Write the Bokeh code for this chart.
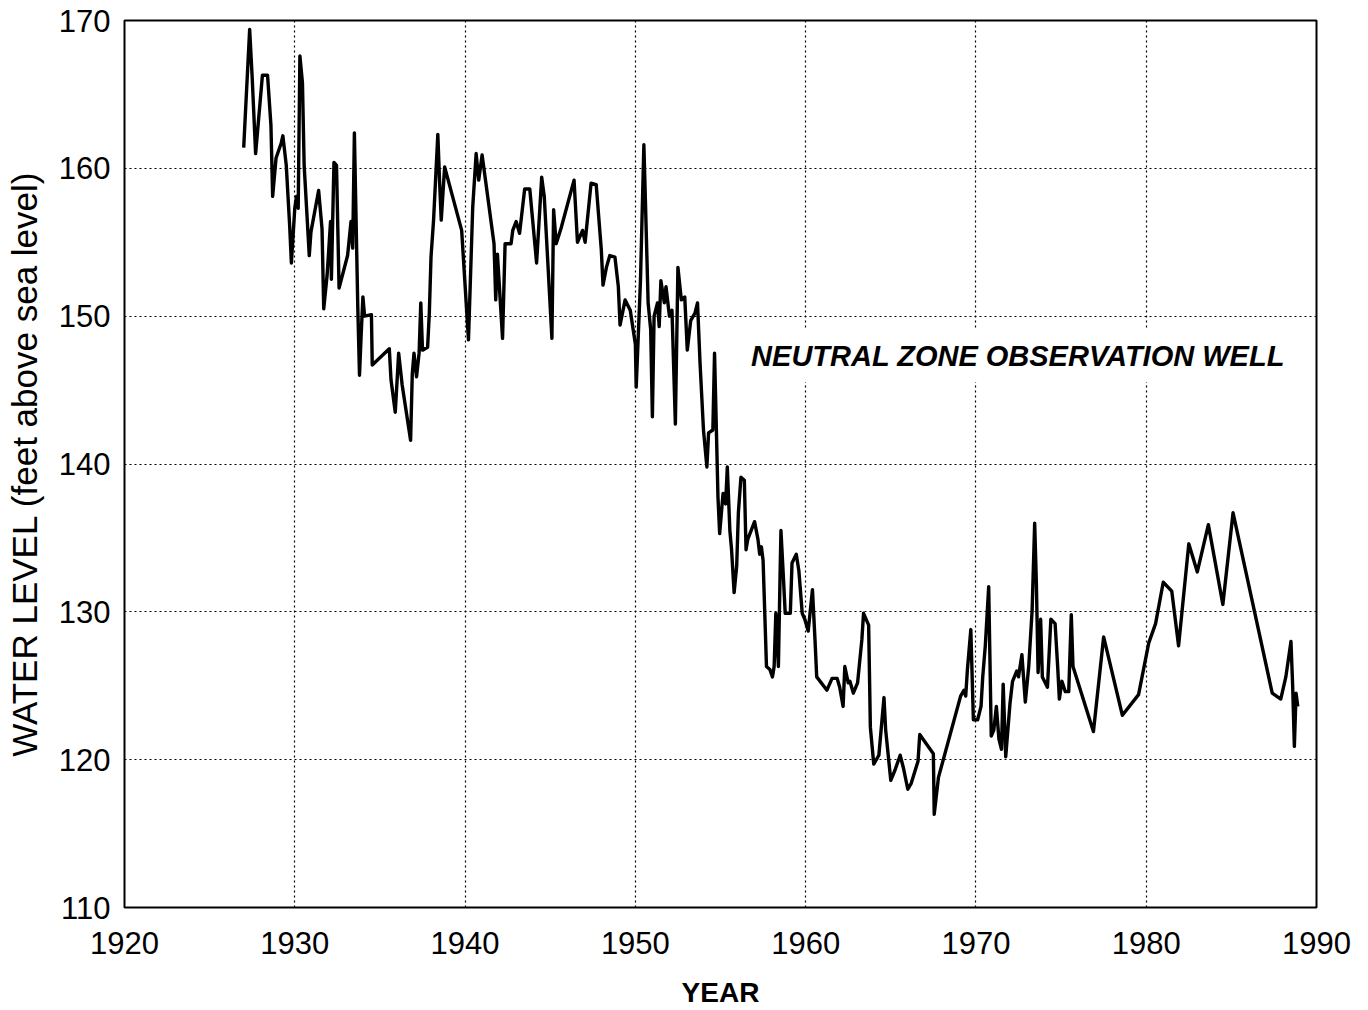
from bokeh.plotting import figure
from bokeh.models import FixedTicker, Label, Range1d
from bokeh.embed import file_html
from bokeh.resources import INLINE

# ---- data ----
years = [
    1927.0, 1927.1, 1927.35, 1927.5, 1927.7, 1928.1, 1928.4, 1928.6, 1928.7, 1928.9,
    1929.2, 1929.3, 1929.5, 1929.7, 1929.8, 1930.0, 1930.1, 1930.2, 1930.3, 1930.45,
    1930.55, 1930.85, 1930.95, 1931.4, 1931.6, 1931.7, 1931.9, 1932.1, 1932.15, 1932.3,
    1932.45, 1932.6, 1933.1, 1933.3, 1933.4, 1933.5, 1933.7, 1933.8, 1933.9, 1934.0,
    1934.1, 1934.5, 1934.55, 1935.55, 1935.65, 1935.9, 1936.1, 1936.3, 1936.8, 1936.9,
    1937.0, 1937.15, 1937.3, 1937.4, 1937.5, 1937.8, 1937.9, 1938.0, 1938.15, 1938.4,
    1938.5, 1938.6, 1938.8, 1939.8, 1940.2, 1940.45, 1940.65, 1940.8, 1941.0, 1941.2,
    1941.7, 1941.8, 1941.9, 1942.2, 1942.35, 1942.7, 1942.8, 1943.0, 1943.2, 1943.5,
    1943.8, 1944.2, 1944.5, 1944.65, 1945.1, 1945.2, 1945.35, 1945.65, 1946.4, 1946.6,
    1946.9, 1947.05, 1947.4, 1947.7, 1948.0, 1948.1, 1948.3, 1948.5, 1948.8, 1949.0,
    1949.1, 1949.4, 1949.7, 1950.0, 1950.05, 1950.2, 1950.3, 1950.5, 1950.6, 1950.75,
    1950.9, 1951.0, 1951.1, 1951.3, 1951.4, 1951.5, 1951.7, 1951.8, 1952.0, 1952.15,
    1952.35, 1952.5, 1952.6, 1952.7, 1952.9, 1953.05, 1953.25, 1953.5, 1953.65, 1953.8,
    1954.0, 1954.2, 1954.3, 1954.55, 1954.65, 1954.75, 1954.85, 1954.95, 1955.15, 1955.3,
    1955.4, 1955.55, 1955.65, 1955.8, 1955.95, 1956.05, 1956.2, 1956.4, 1956.5, 1956.6,
    1957.0, 1957.2, 1957.3, 1957.4, 1957.5, 1957.7, 1957.9, 1958.05, 1958.15, 1958.25,
    1958.4, 1958.5, 1958.55, 1958.7, 1958.8, 1959.1, 1959.2, 1959.45, 1959.6, 1959.8,
    1959.95, 1960.15, 1960.4, 1960.55, 1960.65, 1961.25, 1961.55, 1961.85, 1962.0, 1962.2,
    1962.3, 1962.5, 1962.6, 1962.8, 1963.05, 1963.3, 1963.4, 1963.7, 1963.8, 1964.0,
    1964.3, 1964.6, 1964.7, 1965.0, 1965.25, 1965.55, 1965.75, 1966.0, 1966.2, 1966.6,
    1966.7, 1967.5, 1967.55, 1967.8, 1969.1, 1969.3, 1969.4, 1969.5, 1969.7, 1969.85,
    1970.1, 1970.3, 1970.4, 1970.55, 1970.75, 1970.9, 1971.05, 1971.2, 1971.35, 1971.5,
    1971.6, 1971.75, 1972.0, 1972.15, 1972.4, 1972.5, 1972.7, 1972.9, 1973.1, 1973.3,
    1973.45, 1973.55, 1973.65, 1973.8, 1973.9, 1974.2, 1974.4, 1974.65, 1974.8, 1974.9,
    1975.05, 1975.25, 1975.45, 1975.6, 1975.7, 1976.9, 1977.5, 1978.6, 1979.55, 1980.15,
    1980.55, 1981.0, 1981.5, 1981.9, 1982.5, 1983.0, 1983.65, 1984.5, 1985.1, 1987.4,
    1987.9, 1988.2, 1988.5, 1988.6, 1988.7, 1988.8, 1988.9,
]
levels = [
    161.4, 163.7, 169.4, 166.1, 161.0, 166.3, 166.3, 162.9, 158.1, 160.7,
    161.7, 162.2, 160.2, 156.1, 153.6, 157.3, 158.1, 157.3, 167.6, 165.8,
    160.2, 154.1, 155.7, 158.5, 155.9, 150.5, 152.8, 156.4, 152.5, 160.4,
    160.2, 151.9, 154.1, 156.4, 154.6, 162.4, 150.6, 146.0, 148.8, 151.3,
    150.0, 150.1, 146.7, 147.8, 145.7, 143.5, 147.5, 145.4, 141.6, 146.1,
    147.5, 145.9, 147.5, 150.9, 147.7, 147.9, 150.2, 154.0, 156.5, 162.3,
    159.2, 156.5, 160.1, 155.8, 148.4, 157.4, 161.0, 159.2, 160.9, 159.2,
    154.9, 151.1, 154.2, 148.5, 154.9, 154.9, 155.8, 156.4, 155.6, 158.6,
    158.6, 153.6, 159.4, 158.1, 148.5, 157.2, 154.9, 156.0, 159.2, 155.0,
    155.8, 155.0, 159.0, 158.9, 154.5, 152.1, 153.3, 154.1, 154.0, 152.0,
    149.4, 151.1, 150.4, 148.1, 145.2, 149.5, 152.4, 161.6, 157.4, 150.9,
    149.1, 143.2, 150.0, 150.9, 149.3, 152.4, 150.9, 152.0, 150.0, 150.4,
    142.7, 153.3, 152.2, 151.1, 151.3, 147.7, 149.7, 150.2, 150.9, 146.8,
    142.3, 139.8, 142.1, 142.3, 147.5, 142.7, 137.8, 135.3, 138.0, 137.3,
    139.8, 135.5, 134.2, 131.3, 133.1, 136.7, 139.1, 138.9, 134.2, 134.9,
    136.1, 134.9, 133.9, 134.4, 133.5, 126.3, 126.1, 125.6, 126.3, 129.9,
    126.3, 132.6, 135.5, 132.2, 129.9, 129.9, 133.3, 133.9, 132.8, 129.9,
    129.5, 128.7, 131.5, 128.1, 125.6, 124.7, 125.5, 125.5, 124.9, 123.6,
    126.3, 125.2, 125.3, 124.5, 125.2, 128.1, 129.9, 129.1, 122.2, 119.7,
    120.3, 124.2, 122.0, 118.6, 119.3, 120.3, 119.4, 118.0, 118.4, 119.9,
    121.7, 120.4, 116.3, 118.8, 124.3, 124.7, 124.3, 126.1, 128.8, 122.7,
    122.7, 123.6, 125.6, 127.7, 131.7, 121.6, 122.0, 123.6, 121.4, 120.7,
    125.1, 120.2, 123.8, 125.3, 126.0, 125.6, 127.1, 123.9, 126.3, 130.1,
    136.0, 131.9, 125.9, 129.5, 125.6, 124.9, 129.5, 129.2, 126.3, 124.1,
    125.3, 124.6, 124.6, 129.8, 126.3, 121.9, 128.3, 123.0, 124.4, 127.9,
    129.2, 132.0, 131.4, 127.7, 134.6, 132.7, 135.9, 130.5, 136.7, 124.5,
    124.1, 125.6, 128.0, 125.0, 120.9, 124.5, 123.6,
]
x_ticks = [1920, 1930, 1940, 1950, 1960, 1970, 1980, 1990]
y_ticks = [110, 120, 130, 140, 150, 160, 170]
x_label = "YEAR"
y_label = "WATER LEVEL (feet above sea level)"
note = "NEUTRAL ZONE OBSERVATION WELL"

FONT = "Liberation Sans"

p = figure(
    width=1360, height=1010,
    x_range=Range1d(1920, 1990), y_range=Range1d(110, 170),
    output_backend="svg", toolbar_location=None,
    min_border_left=124, min_border_right=44,
    min_border_top=20, min_border_bottom=102,
    background_fill_color="white", border_fill_color="white",
)

p.line(years, levels, line_color="black", line_width=3.4, line_join="round")

for ax in (p.xaxis[0], p.yaxis[0]):
    ax.axis_line_color = None
    ax.major_tick_in = 0
    ax.major_tick_out = 0
    ax.minor_tick_in = 0
    ax.minor_tick_out = 0
    ax.major_label_text_font = FONT
    ax.major_label_text_font_size = "31px"
    ax.major_label_text_color = "black"
    ax.axis_label_text_font = FONT
    ax.axis_label_text_color = "black"

p.xaxis.ticker = FixedTicker(ticks=x_ticks)
p.yaxis.ticker = FixedTicker(ticks=y_ticks)
p.xaxis.major_label_standoff = 24
p.yaxis.major_label_standoff = 14

p.xaxis.axis_label = x_label
p.xaxis.axis_label_text_font_size = "28px"
p.xaxis.axis_label_text_font_style = "bold"
p.xaxis.axis_label_standoff = 20

p.yaxis.axis_label = y_label
p.yaxis.axis_label_text_font_size = "35px"
p.yaxis.axis_label_text_font_style = "normal"
p.yaxis.axis_label_standoff = 12

for g, t in ((p.xgrid[0], x_ticks), (p.ygrid[0], y_ticks)):
    g.ticker = FixedTicker(ticks=t)
    g.grid_line_color = "black"
    g.grid_line_alpha = 1.0
    g.grid_line_width = 1.2
    g.grid_line_dash = "2 3"

p.outline_line_color = "black"
p.outline_line_width = 2
p.outline_line_alpha = 1.0

lab = Label(
    x=1972.47, y=147.3, text=note,
    text_font=FONT, text_font_size="29px", text_font_style="bold italic",
    text_color="black", text_align="center", text_baseline="middle",
    background_fill_color="white", padding=(19, 10),
)
p.add_layout(lab)

open("out.html", "w").write(file_html(p, INLINE))
